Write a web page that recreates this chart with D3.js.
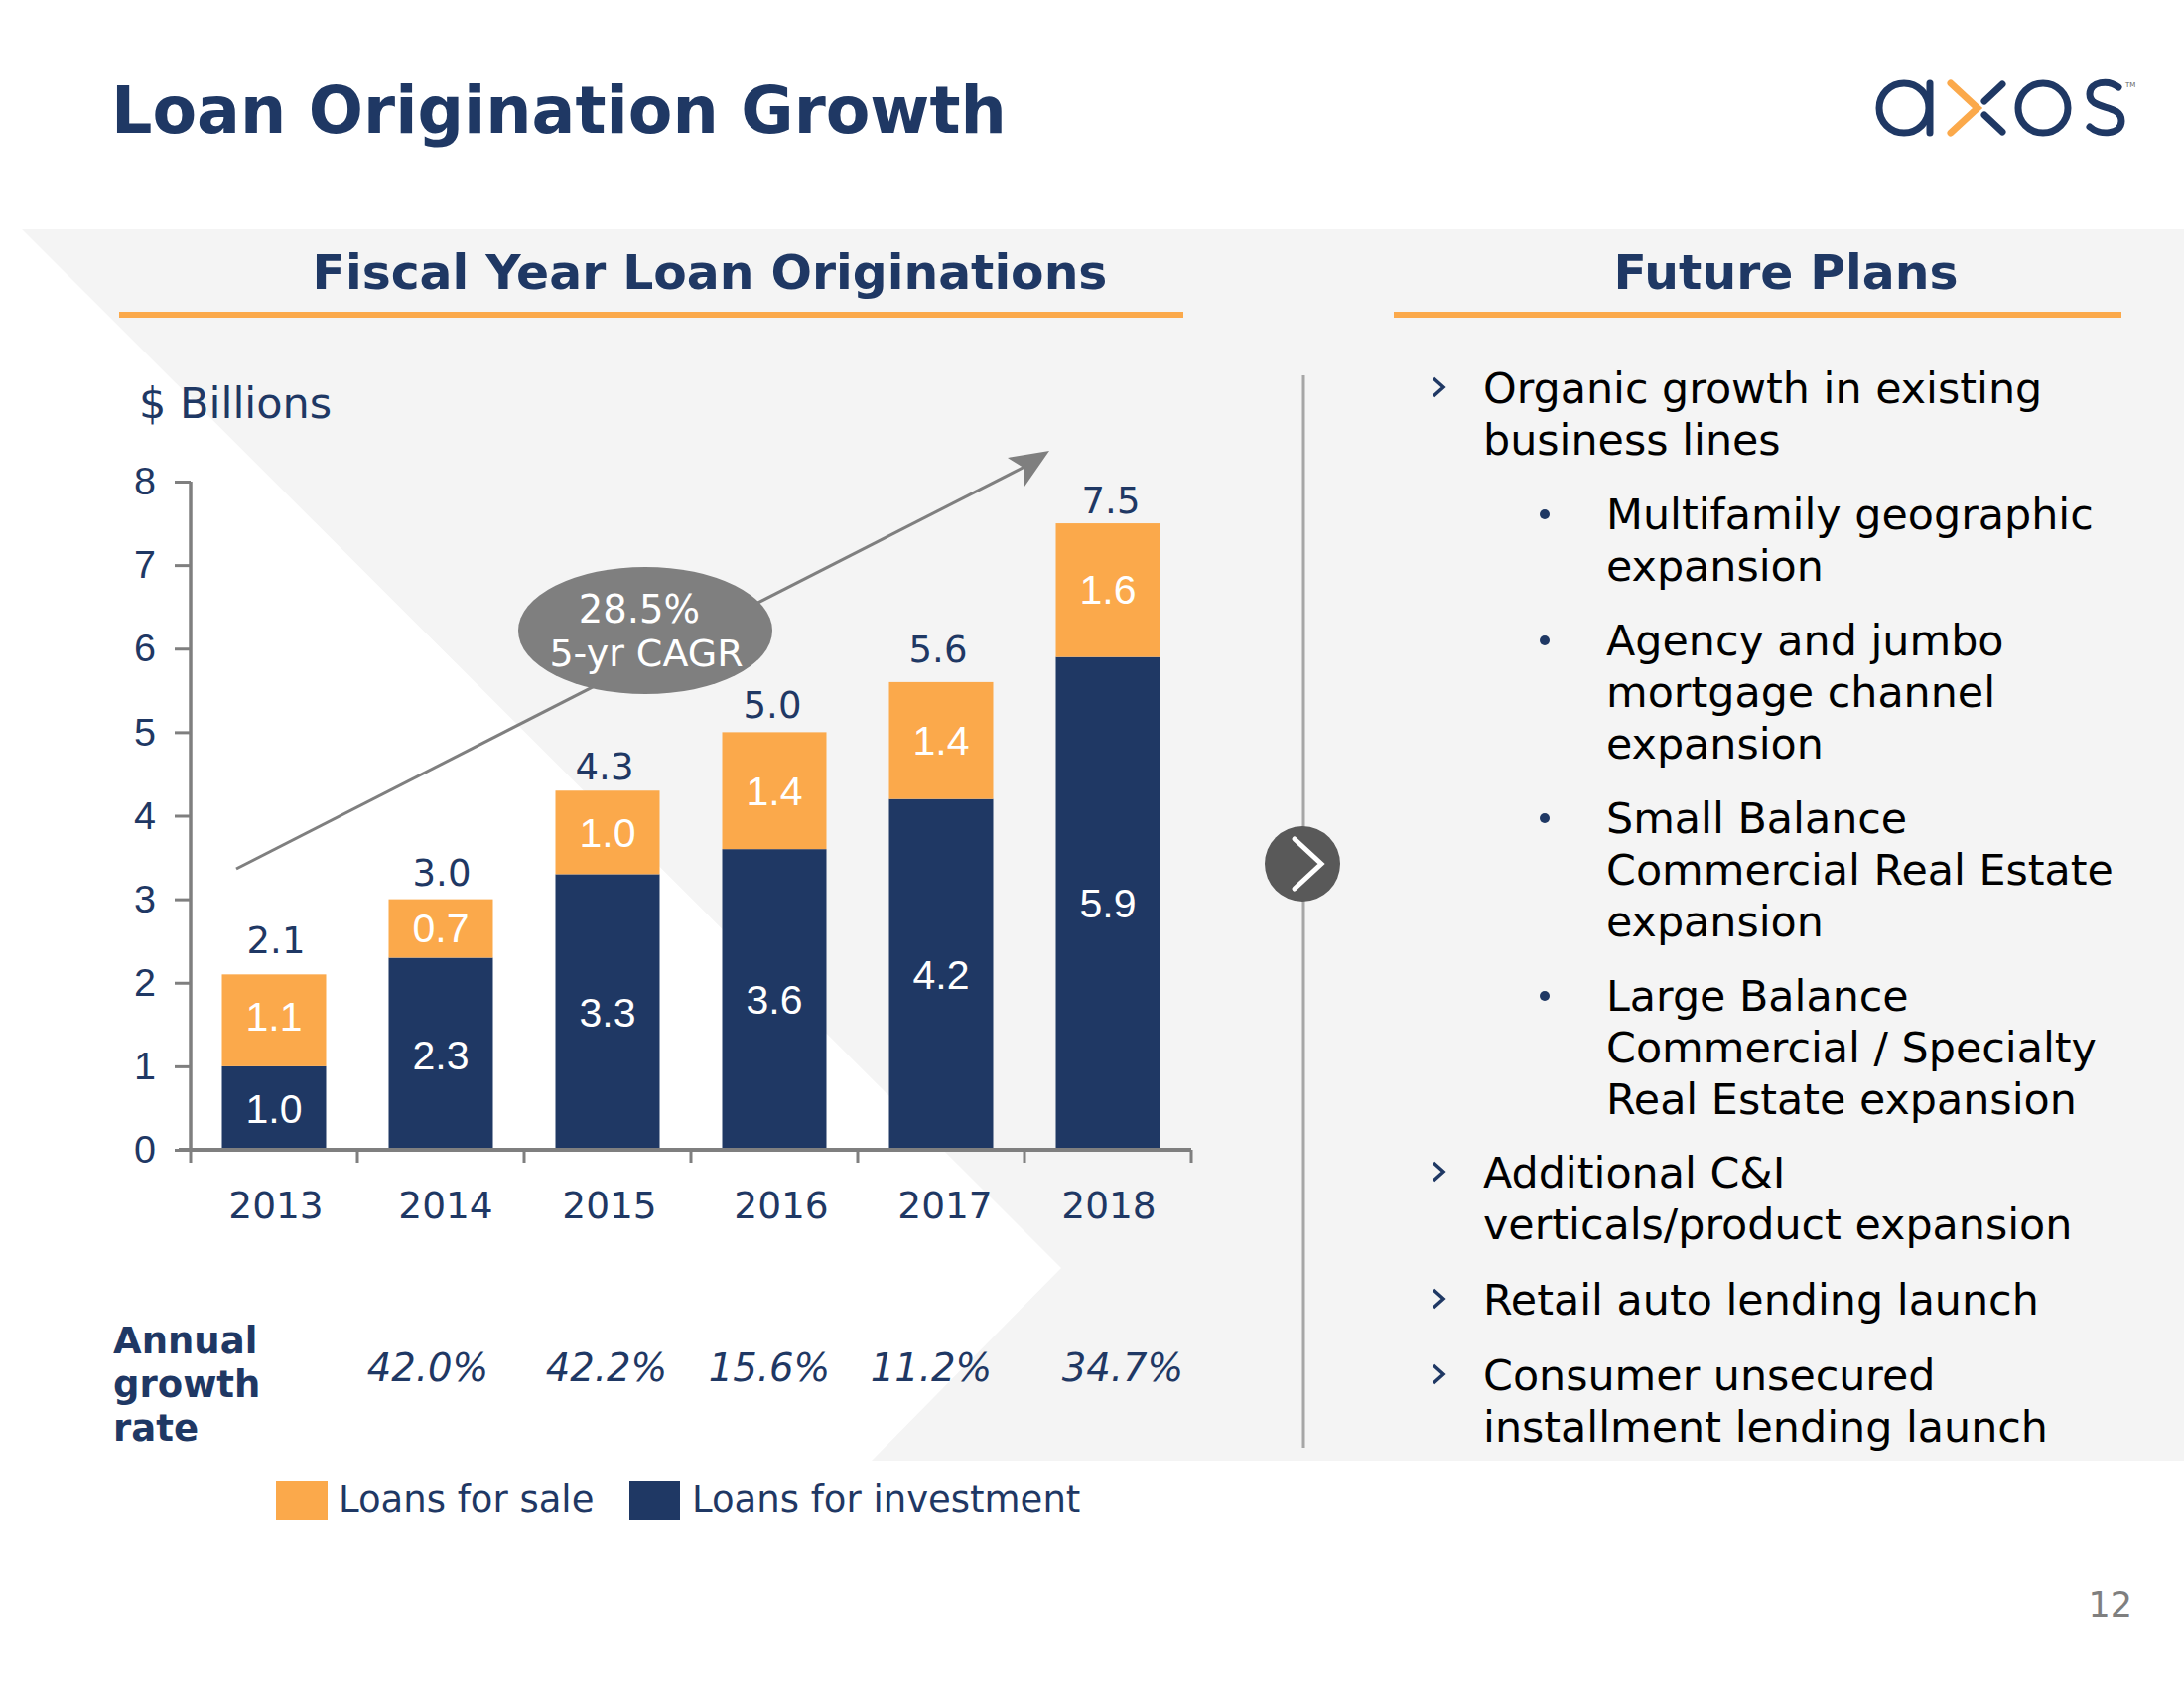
<!DOCTYPE html>
<html><head><meta charset="utf-8">
<script src="https://cdn.jsdelivr.net/npm/d3@7"></script>
<style>
html,body{margin:0;padding:0;background:#fff}
svg{display:block}
text{font-family:"DejaVu Sans",sans-serif}
.ar{font-family:"Liberation Sans",sans-serif}
</style></head><body>
<svg id="c" width="2200" height="1700"></svg>
<script>
const years=["2013","2014","2015","2016","2017","2018"];
const loansForInvestment=[1.0,2.3,3.3,3.6,4.2,5.9];
const loansForSale=[1.1,0.7,1.0,1.4,1.4,1.6];
const totals=[2.1,3.0,4.3,5.0,5.6,7.5];
const growthRates=["42.0%","42.2%","15.6%","11.2%","34.7%"];
const yTicks=[0,1,2,3,4,5,6,7,8];
const seriesNames=["Loans for sale","Loans for investment"];
const plans=[
 {lvl:0,lines:["Organic growth in existing","business lines"],y:406},
 {lvl:1,lines:["Multifamily geographic","expansion"],y:533},
 {lvl:1,lines:["Agency and jumbo","mortgage channel","expansion"],y:660},
 {lvl:1,lines:["Small Balance","Commercial Real Estate","expansion"],y:839},
 {lvl:1,lines:["Large Balance","Commercial / Specialty","Real Estate expansion"],y:1018},
 {lvl:0,lines:["Additional C&I","verticals/product expansion"],y:1196},
 {lvl:0,lines:["Retail auto lending launch"],y:1324},
 {lvl:0,lines:["Consumer unsecured","installment lending launch"],y:1400}
];
const navy="#1F3864",orange="#FBA94B",gray="#7F7F7F";
const svg=d3.select("#c");
const line=d3.line();

svg.append("path").attr("d",line([[22,231],[2200,231],[2200,1471],[878,1471],[1069,1277]])+"Z").attr("fill","#F4F4F4");

function t(x,y,s,size,o={}){
 return svg.append("text").attr("x",x).attr("y",y).text(s).attr("font-size",size)
  .attr("fill",o.fill||navy).attr("text-anchor",o.anchor||"start")
  .attr("font-weight",o.weight||null).attr("font-style",o.style||null)
  .attr("class",o.cls||null);
}
t(112,134,"Loan Origination Growth",65,{weight:"bold"});
t(715,291,"Fiscal Year Loan Originations",48.8,{weight:"bold",anchor:"middle"});
t(1799,291,"Future Plans",48.8,{weight:"bold",anchor:"middle"});
svg.append("rect").attr("x",120).attr("y",314).attr("width",1072).attr("height",6).attr("fill",orange);
svg.append("rect").attr("x",1404).attr("y",314).attr("width",733).attr("height",6).attr("fill",orange);
t(140,421,"$ Billions",43);

const xLeft=192,xRight=1200,y0=1158,y8=485;
const x=d3.scaleBand().domain(years).range([xLeft,xRight]).paddingInner(0.375).paddingOuter(0.1875);
const y=d3.scaleLinear().domain([0,8]).range([y0,y8]);

// CAGR arrow
svg.append("line").attr("x1",238).attr("y1",875).attr("x2",1040).attr("y2",466).attr("stroke",gray).attr("stroke-width",3);
svg.append("path").attr("d",line([[1057,454],[1015,461],[1031,471],[1032,490]])+"Z").attr("fill",gray);

// bars
svg.append("g").selectAll("rect").data(years).join("rect")
 .attr("x",d=>x(d)).attr("width",x.bandwidth())
 .attr("y",(d,i)=>y(loansForInvestment[i])).attr("height",(d,i)=>y0-y(loansForInvestment[i])).attr("fill",navy);
svg.append("g").selectAll("rect").data(years).join("rect")
 .attr("x",d=>x(d)).attr("width",x.bandwidth())
 .attr("y",(d,i)=>y(totals[i])).attr("height",(d,i)=>y(totals[i]-loansForSale[i])-y(totals[i])).attr("fill",orange);

// axes
const ax=d3.axisLeft(y).tickValues(yTicks).tickSize(16).tickPadding(19).tickFormat(d3.format("d"));
const gy=svg.append("g").attr("transform",`translate(${xLeft},0)`).call(ax);
gy.selectAll("line,path").attr("stroke",gray).attr("stroke-width",3);
gy.select(".domain").attr("d",`M0,${y8}V${y0}`).attr("stroke-width",3.5);
gy.selectAll("text").attr("class","ar").attr("fill",navy).attr("font-size",39.5).attr("font-family",null);

const xBand=d3.scaleBand().domain(years).range([xLeft,xRight]);
const ax2=d3.axisBottom(xBand).tickSize(0).tickFormat(()=>"");
const gx=svg.append("g").attr("transform",`translate(0,${y0})`).call(ax2);
gx.select(".domain").attr("d",`M${xLeft-12},0H${xRight}`).attr("stroke",gray).attr("stroke-width",4);
gx.selectAll(".tick").remove();
gx.selectAll("line.t").data(years.concat(["end"])).join("line").attr("class","t")
 .attr("x1",(d,i)=>xLeft+i*xBand.step()).attr("x2",(d,i)=>xLeft+i*xBand.step())
 .attr("y1",0).attr("y2",13).attr("stroke",gray).attr("stroke-width",3);

const yearNudge=[2,5,2,7,4,1];
const totalDx=[2,1,-3,-2,-3,3];
const totalDy=[21,14,11,14,20,10];
const saleDy=[10,14,15,15,14,14];
const invDy=[15,16,15,14,15,14];
years.forEach((d,i)=>{
 const cx=x(d)+x.bandwidth()/2;
 t(cx+yearNudge[i],1227,d,37.5,{anchor:"middle"});
 t(cx+totalDx[i],y(totals[i])-totalDy[i],totals[i].toFixed(1),37,{anchor:"middle"});
 t(cx,(y(totals[i])+y(totals[i]-loansForSale[i]))/2+saleDy[i],loansForSale[i].toFixed(1),41,{anchor:"middle",fill:"#fff",cls:"ar"});
 t(cx,(y0+y(loansForInvestment[i]))/2+invDy[i],loansForInvestment[i].toFixed(1),41,{anchor:"middle",fill:"#fff",cls:"ar"});
});

// CAGR ellipse
svg.append("ellipse").attr("cx",650).attr("cy",635).attr("rx",128).attr("ry",64).attr("fill",gray);
t(644,627,"28.5%",38.5,{anchor:"middle",fill:"#fff"});
t(651,671,"5-yr CAGR",38,{anchor:"middle",fill:"#fff"});

// growth rate row
["Annual","growth","rate"].forEach((s,i)=>t(114,1363+i*44,s,37,{weight:"bold"}));
const rateX=[431,611,775,938,1131];
growthRates.forEach((s,i)=>t(rateX[i],1391,s,38.6,{anchor:"middle",style:"italic"}));

// legend
svg.append("rect").attr("x",278).attr("y",1492).attr("width",52).attr("height",39).attr("fill",orange);
t(341,1523,seriesNames[0],37);
svg.append("rect").attr("x",634).attr("y",1492).attr("width",51).attr("height",39).attr("fill",navy);
t(697,1523,seriesNames[1],37);

// divider
svg.append("line").attr("x1",1313).attr("x2",1313).attr("y1",378).attr("y2",1458).attr("stroke","#A6A6A6").attr("stroke-width",3);
svg.append("circle").attr("cx",1312).attr("cy",870).attr("r",38).attr("fill","#595959");
svg.append("path").attr("d",line([[1304,845],[1331,870],[1304,895]])).attr("fill","none").attr("stroke","#fff").attr("stroke-width",5).attr("stroke-linecap","round");

// plans list
plans.forEach(p=>{
 const tx=p.lvl===0?1494:1618;
 p.lines.forEach((s,i)=>t(tx,p.y+i*52,s,42.8,{fill:"#000"}));
 if(p.lvl===0){
  svg.append("path").attr("d",line([[1444,p.y-25],[1454,p.y-16],[1444,p.y-7]])).attr("fill","none").attr("stroke",navy).attr("stroke-width",3.5);
 } else {
  svg.append("circle").attr("cx",1556).attr("cy",p.y-15).attr("r",5).attr("fill",navy);
 }
});

// logo
const lg=svg.append("g").attr("fill","none").attr("stroke-width",7).attr("stroke-linecap","round");
lg.append("circle").attr("cx",1918).attr("cy",109).attr("r",25).attr("stroke",navy);
lg.append("line").attr("x1",1944).attr("x2",1944).attr("y1",84).attr("y2",134).attr("stroke",navy);
lg.append("path").attr("d",line([[1965,84],[1992,109],[1965,134]])).attr("stroke",orange);
lg.append("line").attr("x1",1999).attr("y1",102).attr("x2",2017).attr("y2",85).attr("stroke",navy);
lg.append("line").attr("x1",1999).attr("y1",116).attr("x2",2017).attr("y2",133).attr("stroke",navy);
lg.append("circle").attr("cx",2058).attr("cy",109).attr("r",25).attr("stroke",navy);
lg.append("path").attr("d","M2134,88 C2124,80 2105,82 2105,95 C2105,112 2137,104 2137,122 C2137,136 2115,137 2105,128").attr("stroke",navy);
t(2141,88,"TM",7,{fill:"#666"});

t(2148,1628,"12",35,{anchor:"end",fill:"#7F7F7F"});
</script></body></html>
